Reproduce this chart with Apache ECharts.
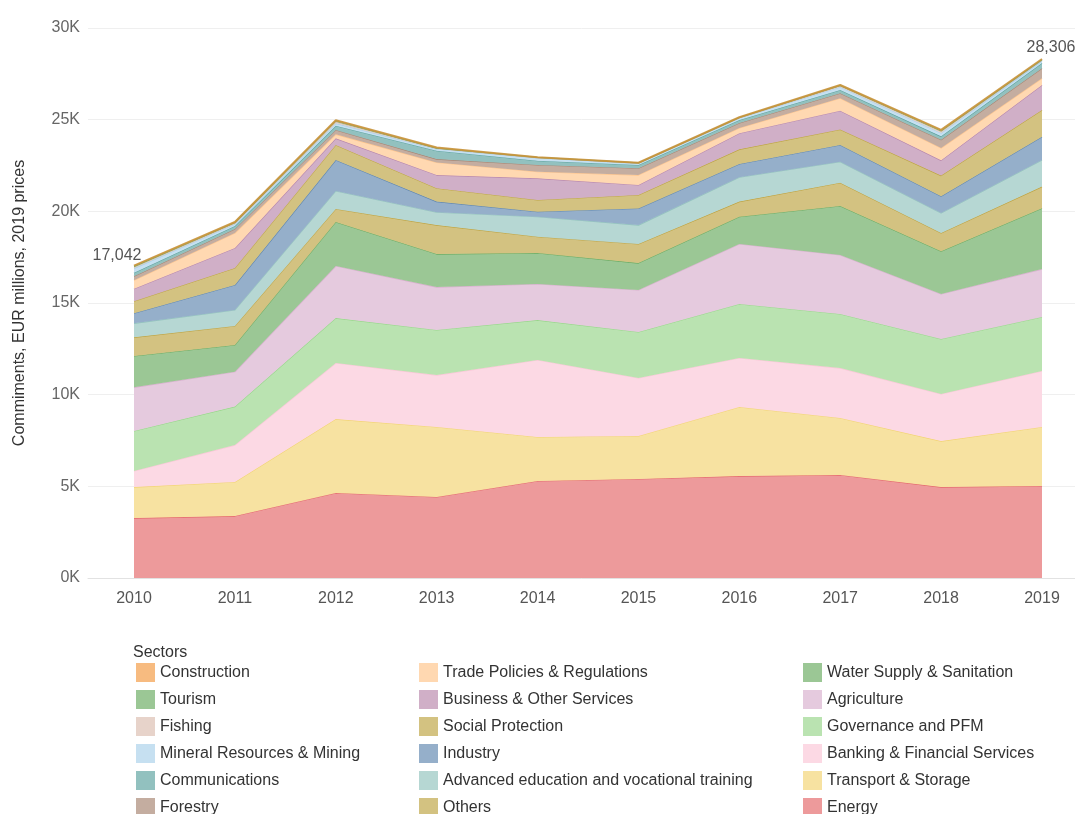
<!DOCTYPE html>
<html>
<head>
<meta charset="utf-8">
<title>Commitments by sector</title>
<script src="https://cdn.jsdelivr.net/npm/echarts@6/dist/echarts.min.js"></script>
<style>
  html, body { margin: 0; padding: 0; background: #fff; }
  #chart { width: 1075px; height: 814px; }
</style>
</head>
<body>
<div id="chart"></div>
<script>
// 年份（横轴）
const years = ['2010', '2011', '2012', '2013', '2014', '2015', '2016', '2017', '2018', '2019']

// 各行业承诺额，EUR 百万
const energy = [3270, 3380, 4640, 4420, 5290, 5400, 5560, 5620, 4960, 5020]
const transport = [1690, 1860, 4030, 3820, 2400, 2350, 3770, 3110, 2510, 3220]
const banking = [880, 2010, 3060, 2830, 4200, 3160, 2670, 2720, 2570, 3050]
const governance = [2180, 2100, 2450, 2460, 2180, 2510, 2950, 2950, 3000, 2950]
const agriculture = [2380, 1900, 2840, 2340, 1970, 2290, 3270, 3220, 2450, 2610]
const water = [1710, 1460, 2400, 1800, 1690, 1470, 1490, 2670, 2330, 3320]
const others = [1020, 1040, 710, 1580, 890, 1040, 820, 1270, 1000, 1180]
const advEducation = [760, 870, 980, 700, 1090, 1030, 1330, 1150, 1090, 1450]
const industry = [550, 1360, 1690, 580, 270, 910, 720, 910, 910, 1270]
const socialProtection = [660, 930, 820, 730, 640, 730, 800, 850, 1130, 1460]
const business = [680, 1090, 360, 720, 1180, 550, 880, 1020, 830, 1360]
const trade = [460, 820, 220, 690, 360, 540, 290, 680, 680, 370]
const forestry = [220, 220, 240, 180, 370, 370, 270, 270, 450, 540]
const communications = [190, 160, 230, 460, 230, 180, 160, 180, 180, 290]
const mineral = [240, 110, 130, 90, 150, 90, 110, 160, 180, 110]
const fishing = [60, 40, 80, 30, 20, 10, 20, 60, 90, 40]
const tourism = [50, 40, 50, 20, 10, 10, 10, 30, 40, 30]
const construction = [42, 30, 40, 30, 10, 10, 10, 20, 40, 36]

// 纵轴刻度
const yTicks = [0, 5000, 10000, 15000, 20000, 25000, 30000]

// 图例分三列
const legendCol1 = ['Construction', 'Tourism', 'Fishing', 'Mineral Resources & Mining', 'Communications', 'Forestry']
const legendCol2 = ['Trade Policies & Regulations', 'Business & Other Services', 'Social Protection', 'Industry', 'Advanced education and vocational training', 'Others']
const legendCol3 = ['Water Supply & Sanitation', 'Agriculture', 'Governance and PFM', 'Banking & Financial Services', 'Transport & Storage', 'Energy']

// 堆叠顺序：从下到上
const sectors = [
  { name: 'Energy', values: energy },
  { name: 'Transport & Storage', values: transport },
  { name: 'Banking & Financial Services', values: banking },
  { name: 'Governance and PFM', values: governance },
  { name: 'Agriculture', values: agriculture },
  { name: 'Water Supply & Sanitation', values: water },
  { name: 'Others', values: others },
  { name: 'Advanced education and vocational training', values: advEducation },
  { name: 'Industry', values: industry },
  { name: 'Social Protection', values: socialProtection },
  { name: 'Business & Other Services', values: business },
  { name: 'Trade Policies & Regulations', values: trade },
  { name: 'Forestry', values: forestry },
  { name: 'Communications', values: communications },
  { name: 'Mineral Resources & Mining', values: mineral },
  { name: 'Fishing', values: fishing },
  { name: 'Tourism', values: tourism },
  { name: 'Construction', values: construction }
]

const baseColors = {
  'Energy': '#e15759',
  'Transport & Storage': '#f1ce63',
  'Banking & Financial Services': '#fabfd2',
  'Governance and PFM': '#8cd17d',
  'Agriculture': '#d4a6c8',
  'Water Supply & Sanitation': '#59a14f',
  'Others': '#b6992d',
  'Advanced education and vocational training': '#86bcb6',
  'Industry': '#4e79a7',
  'Social Protection': '#b6992d',
  'Business & Other Services': '#b07aa1',
  'Trade Policies & Regulations': '#ffbe7d',
  'Forestry': '#9d7660',
  'Communications': '#499894',
  'Mineral Resources & Mining': '#a0cbe8',
  'Fishing': '#d7b5a6',
  'Tourism': '#59a14f',
  'Construction': '#f28e2b'
}

// 把颜色按 0.6 透明度混到白底上
const pale = (hex) => {
  const n = parseInt(hex.slice(1), 16)
  const mix = c => Math.round(c * 0.6 + 255 * 0.4)
  return `rgb(${mix((n >> 16) & 255)},${mix((n >> 8) & 255)},${mix(n & 255)})`
}

const totals = years.map((_, i) => sectors.reduce((sum, s) => sum + s.values[i], 0))

const FONT = '"Liberation Sans", Arial, sans-serif'

const chart = echarts.init(document.getElementById('chart'), null, { renderer: 'canvas' })

const makeLegend = (names, left) => ({
  orient: 'vertical',
  left: left,
  top: 658,
  height: 170,
  itemWidth: 19,
  itemHeight: 19,
  itemGap: 8,
  icon: 'rect',
  selectedMode: false,
  textStyle: { fontFamily: FONT, fontSize: 16, color: '#333' },
  data: names.map(n => ({ name: n, itemStyle: { color: pale(baseColors[n]), borderWidth: 0 } }))
})

const series = sectors.map((s, idx) => {
  const isTop = idx === sectors.length - 1
  return {
    name: s.name,
    type: 'line',
    stack: 'total',
    xAxisIndex: 1,
    yAxisIndex: 1,
    // 顶层保留（看不见的）符号，这样首尾总计标签才能显示
    showSymbol: isTop,
    symbol: isTop ? 'circle' : 'none',
    symbolSize: 0,
    z: 2 + idx * 0.01,
    lineStyle: { color: isTop ? '#c8923a' : baseColors[s.name], width: isTop ? 2 : 1.2, opacity: isTop ? 0.9 : 0.75 },
    itemStyle: { color: baseColors[s.name] },
    areaStyle: { color: pale(baseColors[s.name]), opacity: 1 },
    emphasis: { disabled: true },
    data: s.values.map((v, i) => {
      if (isTop && (i === 0 || i === years.length - 1)) {
        return {
          value: v,
          label: {
            show: true,
            position: 'top',
            distance: 5,
            offset: i === 0 ? [-17, 3] : [9, 2],
            fontFamily: FONT,
            fontSize: 16,
            color: '#555',
            formatter: () => totals[i].toLocaleString('en-US')
          }
        }
      }
      return v
    })
  }
})

const option = {
  animation: false,
  backgroundColor: '#fff',
  title: {
    text: 'Sectors',
    left: 128,
    top: 640,
    textStyle: { fontFamily: FONT, fontSize: 16, fontWeight: 'normal', color: '#333' }
  },
  legend: [makeLegend(legendCol1, 131), makeLegend(legendCol2, 414), makeLegend(legendCol3, 798)],
  grid: [
    { left: 88, right: 0, top: 28, height: 550 },
    { left: 134, right: 33, top: 28, height: 550 }
  ],
  xAxis: [
    {
      gridIndex: 0,
      type: 'value',
      min: 0,
      max: 1,
      axisLine: { show: true, lineStyle: { color: '#e2e2e2', width: 1 } },
      axisTick: { show: false },
      axisLabel: { show: false },
      splitLine: { show: false }
    },
    {
      gridIndex: 1,
      type: 'category',
      boundaryGap: false,
      data: years,
      axisLine: { show: false },
      axisTick: { show: false },
      axisLabel: { fontFamily: FONT, fontSize: 16, color: '#555', margin: 13 },
      splitLine: { show: false }
    }
  ],
  yAxis: [
    {
      gridIndex: 0,
      type: 'value',
      min: yTicks[0],
      max: yTicks[yTicks.length - 1],
      interval: yTicks[1] - yTicks[0],
      name: 'Commiments, EUR millions, 2019 prices',
      nameLocation: 'middle',
      nameGap: 60,
      nameTextStyle: { fontFamily: FONT, fontSize: 16, color: '#333' },
      axisLine: { show: false },
      axisTick: { show: false },
      axisLabel: {
        fontFamily: FONT,
        fontSize: 16,
        color: '#666',
        margin: 8,
        formatter: v => (v / 1000) + 'K'
      },
      splitLine: { show: true, lineStyle: { color: '#efefef', width: 1 } }
    },
    {
      gridIndex: 1,
      type: 'value',
      min: yTicks[0],
      max: yTicks[yTicks.length - 1],
      interval: yTicks[1] - yTicks[0],
      show: false,
      splitLine: { show: false }
    }
  ],
  series: series
}

chart.setOption(option)
</script>
</body>
</html>
